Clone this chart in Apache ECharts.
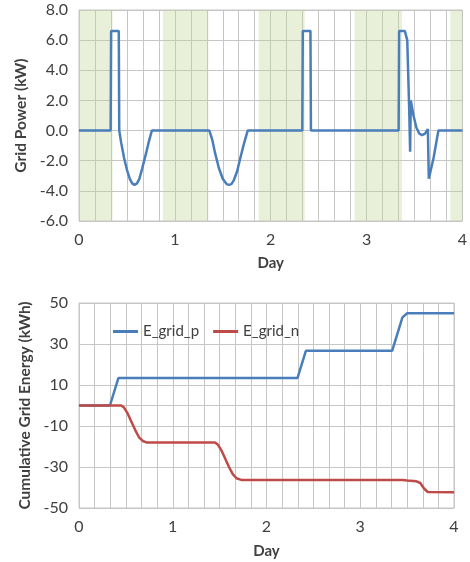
<!DOCTYPE html>
<html>
<head>
<meta charset="utf-8">
<script src="https://cdn.jsdelivr.net/npm/echarts@6/dist/echarts.min.js"></script>
<style>
    html, body { margin: 0; padding: 0; background: #fff; }
    #chart { width: 470px; height: 562px; }
</style>
</head>
<body>
<div id="chart"></div>
<script>
    // 夜间（绿色）区间，单位：天
    const nightStart = [0, 0.875, 1.875, 2.875, 3.875];
    const nightEnd = [0.35, 1.35, 2.355, 3.37, 4];

    // 电网功率 (kW)
    const powerDay = [0, 0.33, 0.335, 0.415, 0.42, 0.44, 0.47, 0.50, 0.53, 0.555, 0.58, 0.605, 0.63, 0.66, 0.70, 0.73, 0.76,
        1.36, 1.39, 1.42, 1.46, 1.50, 1.54, 1.565, 1.59, 1.615, 1.65, 1.68, 1.72, 1.76,
        2.33, 2.335, 2.415, 2.42,
        3.335, 3.34, 3.40, 3.425, 3.445, 3.455, 3.46, 3.462, 3.49, 3.52, 3.55, 3.58, 3.61, 3.64, 3.65, 3.70, 3.75, 4];
    const powerKw = [0, 0, 6.6, 6.6, 0, -0.8, -1.8, -2.6, -3.2, -3.5, -3.6, -3.5, -3.2, -2.5, -1.5, -0.7, 0,
        0, -0.6, -1.5, -2.5, -3.2, -3.55, -3.6, -3.55, -3.3, -2.7, -1.9, -0.9, 0,
        0, 6.6, 6.6, 0,
        0, 6.6, 6.6, 6.0, 1.5, -1.4, -1.4, 2.0, 1.0, 0.2, -0.2, -0.3, -0.2, 0.1, -3.2, -1.8, 0, 0];

    // 累计电网能量 (kWh)
    const posDay = [0, 0.33, 0.42, 2.33, 2.42, 3.34, 3.45, 3.5, 4];
    const posKwh = [0, 0, 13.4, 13.4, 26.7, 26.7, 43, 45, 45];
    const negDay = [0, 0.45, 0.48, 0.52, 0.56, 0.60, 0.64, 0.68, 0.72, 1.45, 1.48, 1.52, 1.56, 1.60, 1.64, 1.68, 1.73,
        3.45, 3.5, 3.6, 3.64, 3.68, 3.72, 4];
    const negKwh = [0, 0, -1, -4, -8, -12, -15.5, -17.3, -18, -18, -19, -22, -26, -30, -33.5, -35.5, -36.3,
        -36.3, -36.6, -37, -37.8, -40.5, -42.2, -42.3];

    const legendNames = ["E_grid_p", "E_grid_n"];

    const zip = (xs, ys) => xs.map((x, i) => [x, ys[i]]);

    const font = "Lato, 'Liberation Sans', sans-serif";
    const gridColor = "#c6c6c6";
    const textColor = "#404040";

    const xAxisBase = {
        type: "value",
        min: 0,
        max: 4,
        interval: 1,
        axisLine: { show: true, lineStyle: { color: gridColor } },
        axisTick: { show: false },
        minorTick: { show: false, splitNumber: 6 },
        splitLine: { show: true, lineStyle: { color: gridColor } },
        minorSplitLine: { show: true, lineStyle: { color: gridColor } },
        axisLabel: { color: textColor, fontSize: 16, fontFamily: font, margin: 11 },
        name: "Day",
        nameLocation: "middle",
        nameTextStyle: { color: textColor, fontSize: 15, fontWeight: "bold", fontFamily: font }
    };

    const yAxisBase = {
        type: "value",
        axisLine: { show: true, lineStyle: { color: gridColor } },
        axisTick: { show: false },
        splitLine: { show: true, lineStyle: { color: gridColor } },
        axisLabel: { color: textColor, fontSize: 16, fontFamily: font, margin: 11 },
        nameLocation: "middle",
        nameRotate: 90,
        nameTextStyle: { color: textColor, fontSize: 15.5, fontWeight: "bold", fontFamily: font }
    };

    const chart = echarts.init(document.getElementById("chart"));

    const option = {
        animation: false,
        grid: [
            { left: 79, right: 6, top: 10, height: 211, show: true, borderColor: gridColor, borderWidth: 1 },
            { left: 79, right: 16, top: 303, height: 205, show: true, borderColor: gridColor, borderWidth: 1 }
        ],
        legend: {
            data: legendNames.map(n => ({ name: n, icon: "rect" })),
            left: 108,
            top: 319,
            itemWidth: 25,
            itemHeight: 3,
            itemGap: 14,
            textStyle: { color: textColor, fontSize: 15, fontFamily: font }
        },
        xAxis: [
            Object.assign({}, xAxisBase, { gridIndex: 0, nameGap: 35 }),
            Object.assign({}, xAxisBase, { gridIndex: 1, nameGap: 36 })
        ],
        yAxis: [
            Object.assign({}, yAxisBase, {
                gridIndex: 0, min: -6, max: 8, interval: 2,
                name: "Grid Power (kW)", nameGap: 47,
                axisLabel: Object.assign({}, yAxisBase.axisLabel, { formatter: v => v.toFixed(1) })
            }),
            Object.assign({}, yAxisBase, {
                gridIndex: 1, min: -50, max: 50, interval: 20,
                name: "Cumulative Grid Energy (kWh)", nameGap: 39
            })
        ],
        series: [
            {
                name: "Grid Power",
                type: "line",
                xAxisIndex: 0,
                yAxisIndex: 0,
                symbol: "none",
                lineStyle: { color: "#4a7ebb", width: 2.5 },
                data: zip(powerDay, powerKw),
                markArea: {
                    silent: true,
                    itemStyle: { color: "rgba(190, 212, 150, 0.35)" },
                    data: nightStart.map((s, i) => [{ xAxis: s }, { xAxis: nightEnd[i] }])
                }
            },
            {
                name: legendNames[0],
                type: "line",
                xAxisIndex: 1,
                yAxisIndex: 1,
                symbol: "none",
                color: "#4a7ebb",
                lineStyle: { color: "#4a7ebb", width: 2.5 },
                data: zip(posDay, posKwh)
            },
            {
                name: legendNames[1],
                type: "line",
                xAxisIndex: 1,
                yAxisIndex: 1,
                symbol: "none",
                color: "#be4b48",
                lineStyle: { color: "#be4b48", width: 2.5 },
                data: zip(negDay, negKwh)
            }
        ]
    };

    chart.setOption(option);
</script>
</body>
</html>
